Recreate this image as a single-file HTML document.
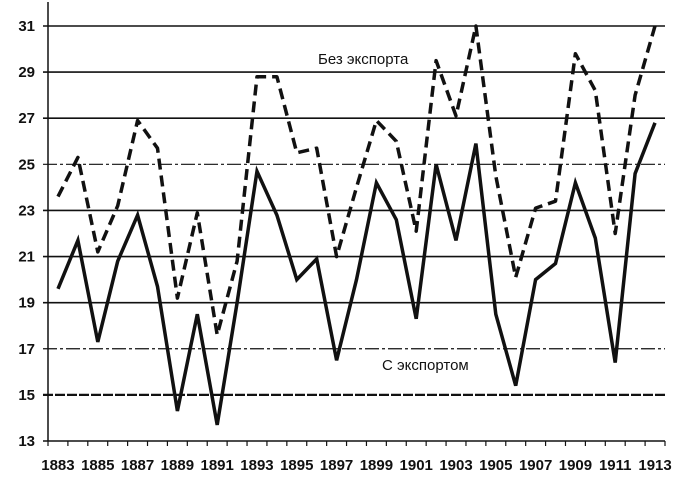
<!DOCTYPE html>
<html><head><meta charset="utf-8">
<style>
html,body{margin:0;padding:0;background:#fff;}
svg{display:block;font-family:"Liberation Sans",sans-serif;}
</style></head>
<body>
<svg id="chart" width="680" height="486" viewBox="0 0 680 486" xmlns="http://www.w3.org/2000/svg"></svg>
<script>
const years = [1883,1884,1885,1886,1887,1888,1889,1890,1891,1892,1893,1894,1895,1896,1897,1898,1899,1900,1901,1902,1903,1904,1905,1906,1907,1908,1909,1910,1911,1912,1913];
const withoutExport = [23.6,25.3,21.2,23.2,26.9,25.7,19.2,22.9,17.6,20.8,28.8,28.8,25.5,25.7,21.0,24.0,26.9,26.0,22.1,29.5,27.1,31.0,24.5,20.1,23.1,23.4,29.8,28.2,22.0,28.0,31.0];
const withExport = [19.6,21.7,17.3,20.8,22.8,19.7,14.3,18.5,13.7,19.0,24.7,22.8,20.0,20.9,16.5,20.0,24.2,22.6,18.3,25.0,21.7,25.9,18.5,15.4,20.0,20.7,24.2,21.8,16.4,24.6,26.8];
const yTicks = [13,15,17,19,21,23,25,27,29,31];
const xTickLabels = [1883,1885,1887,1889,1891,1893,1895,1897,1899,1901,1903,1905,1907,1909,1911,1913];

const NS="http://www.w3.org/2000/svg";
const svg=document.getElementById('chart');
const pL=48,pR=665,pT=26,pB=441,yMin=13,yMax=31;
const band=(pR-pL)/years.length;
function xs(i){return pL+band*(i+0.5);}
function ys(v){return pB-(v-yMin)/(yMax-yMin)*(pB-pT);}
function mk(tag,attrs){const e=document.createElementNS(NS,tag);for(const k in attrs)e.setAttribute(k,attrs[k]);svg.appendChild(e);return e;}

yTicks.forEach(t=>{
  if(t!==13){
    let a={x1:43,x2:pR,y1:ys(t),y2:ys(t),stroke:'#111'};
    if(t===25||t===17){a['stroke-width']=1.2;a['stroke-dasharray']='14 3 3 3';}
    else if(t===15){a['stroke-width']=2.2;a['stroke-dasharray']='10 2';}
    else a['stroke-width']=1.6;
    const g=mk('line',a);
    
    
  }
  const l=mk('text',{x:35,y:ys(t)+5,'text-anchor':'end','font-size':15,'font-weight':'bold',fill:'#111'});
  l.textContent=t;
  
  
});
const ya=mk('line',{x1:pL,x2:pL,y1:2,y2:pB,stroke:'#111','stroke-width':1.5});


const xa=mk('line',{x1:43,x2:pR,y1:pB,y2:pB,stroke:'#111','stroke-width':1.5});


for(let i=0;i<=years.length;i++){
  const t=mk('line',{x1:pL+band*i,x2:pL+band*i,y1:pB,y2:pB+5,stroke:'#111','stroke-width':1.2});
  
  
}
xTickLabels.forEach(y=>{
  const i=years.indexOf(y);
  const l=mk('text',{x:xs(i),y:470,'text-anchor':'middle','font-size':15,'font-weight':'bold',fill:'#111'});
  l.textContent=y;
  
  
});
function pts(arr){return arr.map((v,i)=>xs(i).toFixed(1)+','+ys(v).toFixed(1)).join(' ');}
const s1=mk('polyline',{points:pts(withoutExport),fill:'none',stroke:'#111','stroke-width':3.5,'stroke-dasharray':'11 6','stroke-linejoin':'round'});


const s2=mk('polyline',{points:pts(withExport),fill:'none',stroke:'#111','stroke-width':3.5,'stroke-linejoin':'miter'});


const a1=mk('text',{x:318,y:64,'font-size':15,fill:'#111'});
a1.textContent='Без экспорта';


const a2=mk('text',{x:382,y:370,'font-size':15,fill:'#111'});
a2.textContent='С экспортом';


</script>
</body></html>
